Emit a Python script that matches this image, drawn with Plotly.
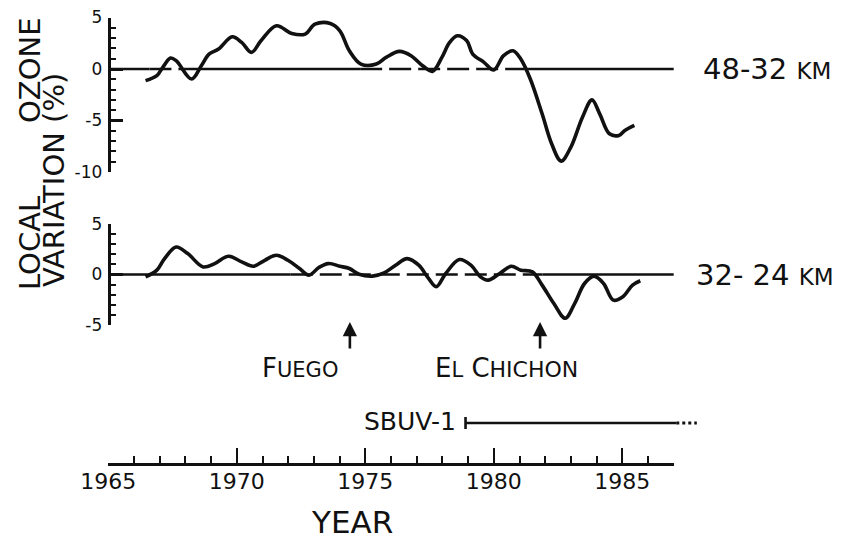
import plotly.graph_objects as go

W, H = 846, 541

# ---------------- data ----------------
# 48-32 km layer: local ozone variation (%)
top_years = [1966.45, 1966.89, 1967.12, 1967.42, 1967.64, 1968.24, 1968.62, 1968.92,
             1969.29, 1969.82, 1970.19, 1970.57, 1970.94, 1971.54, 1972.14, 1972.66,
             1973.04, 1973.64, 1974.01, 1974.38, 1974.83, 1975.43, 1975.81, 1976.33,
             1976.78, 1977.23, 1977.61, 1977.98, 1978.28, 1978.58, 1978.95, 1979.18,
             1979.62, 1980.00, 1980.38, 1980.75, 1981.05, 1981.42, 1981.88, 1982.25,
             1982.62, 1983.00, 1983.45, 1983.82, 1984.12, 1984.50, 1984.87, 1985.10,
             1985.47]
top_vals = [-1.13, -0.65, 0.16, 1.06, 0.81, -0.97, 0.32, 1.45,
            1.94, 3.13, 2.58, 1.61, 2.74, 4.19, 3.45, 3.39,
            4.35, 4.42, 3.71, 1.77, 0.48, 0.48, 1.13, 1.71,
            1.29, 0.32, -0.23, 1.13, 2.58, 3.23, 2.74, 1.45,
            0.65, -0.10, 1.29, 1.77, 0.97, -0.97, -4.35, -7.26,
            -8.94, -7.58, -4.68, -3.00, -4.35, -6.29, -6.45, -5.97,
            -5.48]

# 32-24 km layer
bot_years = [1966.45, 1966.89, 1967.19, 1967.64, 1968.09, 1968.69, 1969.14, 1969.67,
             1970.19, 1970.64, 1971.09, 1971.54, 1971.99, 1972.44, 1972.81, 1973.19,
             1973.56, 1974.01, 1974.38, 1974.76, 1975.28, 1975.73, 1976.18, 1976.63,
             1977.08, 1977.46, 1977.76, 1978.13, 1978.66, 1979.11, 1979.48, 1979.78,
             1980.23, 1980.68, 1981.05, 1981.50, 1981.88, 1982.33, 1982.78, 1983.15,
             1983.53, 1983.90, 1984.27, 1984.65, 1985.02, 1985.40, 1985.70]
bot_vals = [-0.23, 0.43, 1.57, 2.72, 2.07, 0.75, 1.08, 1.80,
            1.25, 0.82, 1.41, 1.90, 1.41, 0.59, -0.07, 0.69,
            1.08, 0.82, 0.59, 0.03, -0.16, 0.16, 0.92, 1.57,
            0.92, -0.39, -1.21, 0.10, 1.48, 0.92, -0.23, -0.56,
            0.10, 0.82, 0.43, 0.26, -1.05, -2.85, -4.33, -2.85,
            -0.89, -0.16, -0.89, -2.54, -2.20, -1.05, -0.62]

layer_labels = ["48-32", "32- 24"]
layer_unit = "KM"

top_y_ticks = [5, 0, -5, -10]
top_y_labels = ["5", "0", "-5", "-10"]
bot_y_ticks = [5, 0, -5]
bot_y_labels = ["5", "0", "-5"]

x_first_year, x_last_year = 1965, 1987
x_tick_years = [1965, 1970, 1975, 1980, 1985]
x_tick_labels = ["1965", "1970", "1975", "1980", "1985"]

# zero reference lines: (start year, end year)
top_zero_solid = [(1965.0, 1966.6), (1968.6, 1974.8), (1981.2, 1987.0)]
top_zero_dashed = [(1966.6, 1968.6), (1974.8, 1981.2)]
bot_zero_solid = [(1965.0, 1972.1), (1981.9, 1987.0)]
bot_zero_dashed = [(1972.1, 1981.9)]

event_names = ["F<span style='font-size:21px'>UEGO</span>",
               "E<span style='font-size:21px'>L</span> C<span style='font-size:22px'>HICHON</span>"]
event_years = [1974.4, 1981.8]

sbuv_label = "SBUV-1"
sbuv_start, sbuv_end, sbuv_dots_end = 1978.9, 1987.1, 1987.9

# ---------------- layout helpers ----------------
INK = "#111111"
FONT = "DejaVu Sans"
X1965_PX, PX_PER_YEAR = 108.3, 25.7
x_full_range = [1965 - X1965_PX / PX_PER_YEAR, 1965 + (W - X1965_PX) / PX_PER_YEAR]


def py(px):
    return 1 - px / H


def pxx(px):
    return px / W


fig = go.Figure()

# curves
fig.add_trace(go.Scatter(x=top_years, y=top_vals, xaxis="x", yaxis="y", mode="lines",
                         line=dict(color=INK, width=3.6, shape="spline", smoothing=1.0),
                         hoverinfo="skip", showlegend=False))
fig.add_trace(go.Scatter(x=bot_years, y=bot_vals, xaxis="x", yaxis="y2", mode="lines",
                         line=dict(color=INK, width=3.6, shape="spline", smoothing=1.0),
                         hoverinfo="skip", showlegend=False))

# zero lines
for segs, yax, dash in [(top_zero_solid, "y", "solid"), (top_zero_dashed, "y", "22px,7px"),
                        (bot_zero_solid, "y2", "solid"), (bot_zero_dashed, "y2", "22px,7px")]:
    for a, b in segs:
        fig.add_trace(go.Scatter(x=[a, b], y=[0, 0], xaxis="x", yaxis=yax, mode="lines",
                                 line=dict(color=INK, width=2.6, dash=dash),
                                 hoverinfo="skip", showlegend=False))

# dummy trace so the year axis exists
fig.add_trace(go.Scatter(x=[x_first_year, x_last_year], y=[0, 0], xaxis="x3", yaxis="y3",
                         mode="lines", line=dict(width=0), hoverinfo="skip", showlegend=False))

yaxis_common = dict(anchor="free", position=pxx(108.5), showline=True, linecolor=INK,
                    linewidth=2.6, ticks="inside", ticklen=13, tickwidth=2.6, tickcolor=INK,
                    showgrid=False, zeroline=False, tickmode="array", automargin=False,
                    tickfont=dict(family=FONT, size=17, color=INK), ticklabelstandoff=2)

fig.update_layout(
    template="none",
    width=W, height=H, margin=dict(l=0, r=0, t=0, b=0, pad=0, autoexpand=False),
    paper_bgcolor="white", plot_bgcolor="rgba(0,0,0,0)",
    font=dict(family=FONT, color=INK),
    showlegend=False,
    xaxis=dict(domain=[0, 1], range=x_full_range, visible=False, anchor="y", automargin=False),
    yaxis=dict(domain=[py(172), py(17.5)], range=[-10, 5],
               tickvals=top_y_ticks, ticktext=top_y_labels,
               minor=dict(tickvals=list(range(-10, 6)), ticks="inside", ticklen=6,
                          tickwidth=2, tickcolor=INK),
               **yaxis_common),
    yaxis2=dict(domain=[py(325), py(224)], range=[-5, 5],
                tickvals=bot_y_ticks, ticktext=bot_y_labels,
                minor=dict(tickvals=list(range(-5, 6)), ticks="inside", ticklen=6,
                           tickwidth=2, tickcolor=INK),
                **yaxis_common),
    xaxis3=dict(domain=[pxx(X1965_PX), pxx(X1965_PX + PX_PER_YEAR * (x_last_year - x_first_year))],
                range=[x_first_year, x_last_year], anchor="free", position=py(463.5),
                showline=True, linecolor=INK, linewidth=2.6, automargin=False,
                ticks="inside", ticklen=15, tickwidth=2.4, tickcolor=INK,
                tickmode="array", tickvals=x_tick_years, ticktext=x_tick_labels,
                minor=dict(dtick=1, tick0=x_first_year, ticks="inside", ticklen=7,
                           tickwidth=2, tickcolor=INK),
                tickfont=dict(family=FONT, size=22, color=INK), ticklabelstandoff=-3,
                showgrid=False, zeroline=False),
    yaxis3=dict(domain=[0, 0.1], range=[-1, 1], visible=False, anchor="x3", automargin=False),
)

ann = []
title_font = dict(size=29, family=FONT, color=INK)
# y-axis title (two rotated lines)
ann.append(dict(text="OZONE", x=pxx(30), y=py(70), xref="paper", yref="paper",
                xanchor="center", yanchor="middle",
                textangle=-90, showarrow=False, font=title_font))
ann.append(dict(text="LOCAL", x=pxx(30), y=py(243), xref="paper", yref="paper",
                xanchor="center", yanchor="middle",
                textangle=-90, showarrow=False, font=title_font))
ann.append(dict(text="VARIATION (%)", x=pxx(54), y=py(180), xref="paper", yref="paper",
                xanchor="center", yanchor="middle",
                textangle=-90, showarrow=False, font=title_font))

# layer labels
for lab, yref, xpx in [(layer_labels[0], "y", 701), (layer_labels[1], "y2", 694)]:
    ann.append(dict(text=f"{lab} <span style='font-size:23px'>{layer_unit}</span>",
                    x=pxx(xpx), y=0, xref="paper", yref=yref, xanchor="left", yanchor="middle",
                    showarrow=False, font=dict(size=29, family=FONT, color=INK)))

# volcanic events
shifts = [-50, -34]
for name, yr, sh in zip(event_names, event_years, shifts):
    ann.append(dict(text="", x=yr, y=py(322), xref="x", yref="paper", showarrow=True,
                    ax=0, ay=28, arrowhead=2, arrowsize=1.1, arrowwidth=2.6, arrowcolor=INK))
    ann.append(dict(text=name, x=yr, y=py(368), xref="x", yref="paper", xanchor="center",
                    yanchor="middle", xshift=sh, showarrow=False,
                    font=dict(size=26, family=FONT, color=INK)))

# SBUV-1 record
ann.append(dict(text=sbuv_label, x=sbuv_start, y=py(421), xref="x", yref="paper",
                xanchor="right", yanchor="middle", xshift=-8, showarrow=False,
                font=dict(size=25, family=FONT, color=INK)))

# year axis title
ann.append(dict(text="YEAR", x=pxx(352), y=py(522), xref="paper", yref="paper",
                xanchor="center", yanchor="middle",
                showarrow=False, font=dict(size=31, family=FONT, color=INK)))

fig.update_layout(annotations=ann)

shapes = [
    dict(type="line", xref="x", yref="paper", x0=sbuv_start, x1=sbuv_end, y0=py(423), y1=py(423),
         line=dict(color=INK, width=2.6)),
    dict(type="line", xref="x", yref="paper", x0=sbuv_start, x1=sbuv_start, y0=py(417), y1=py(429),
         line=dict(color=INK, width=2.6)),
    dict(type="line", xref="x", yref="paper", x0=sbuv_end, x1=sbuv_dots_end, y0=py(423), y1=py(423),
         line=dict(color=INK, width=3, dash="dot")),
]
fig.update_layout(shapes=shapes)

fig.write_html("out.html")
